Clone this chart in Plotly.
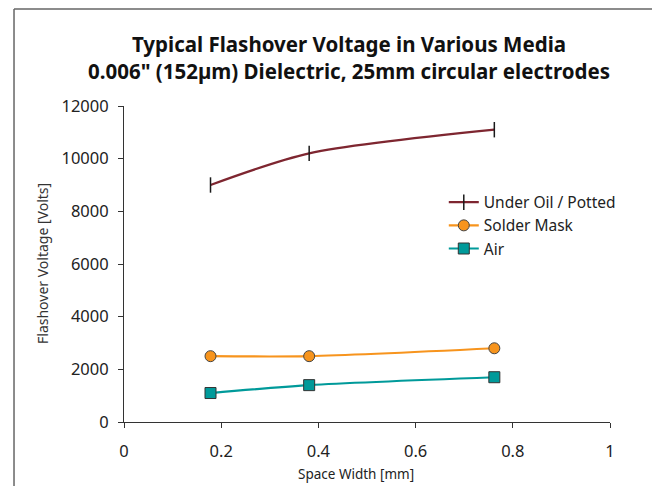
import plotly.graph_objects as go

space_width_mm = [0.178, 0.381, 0.762]
under_oil = [9000, 10200, 11100]
solder_mask = [2500, 2500, 2800]
air = [1100, 1400, 1700]

x_ticks = [0, 0.2, 0.4, 0.6, 0.8, 1]
x_tick_labels = ["0", "0.2", "0.4", "0.6", "0.8", "1"]
y_ticks = [0, 2000, 4000, 6000, 8000, 10000, 12000]
y_tick_labels = ["0", "2000", "4000", "6000", "8000", "10000", "12000"]

FONT = "Noto Sans"

fig = go.Figure()
fig.add_trace(go.Scatter(
    x=space_width_mm, y=under_oil, name="Under Oil / Potted",
    mode="lines+markers",
    line=dict(color="#7E2630", width=2.2, shape="spline", smoothing=0.8),
    marker=dict(symbol="line-ns", size=11, line=dict(color="#1a1a1a", width=1.5)),
))
fig.add_trace(go.Scatter(
    x=space_width_mm, y=solder_mask, name="Solder Mask",
    mode="lines+markers",
    line=dict(color="#F7941D", width=2.2, shape="spline", smoothing=0.8),
    marker=dict(symbol="circle", size=11, color="#F7941D", line=dict(color="#444444", width=1)),
))
fig.add_trace(go.Scatter(
    x=space_width_mm, y=air, name="Air",
    mode="lines+markers",
    line=dict(color="#009A9A", width=2.2, shape="spline", smoothing=0.8),
    marker=dict(symbol="square", size=11, color="#009A9A", line=dict(color="#333333", width=1)),
))

frame = dict(type="line", xref="paper", yref="paper", line=dict(color="#666666", width=1.5))
shapes = [
    dict(frame, x0=-0.2263, x1=-0.2263, y0=1.307, y1=-0.25),
    dict(frame, x0=-0.2263, x1=1.0967, y0=1.307, y1=1.307),
    dict(frame, x0=1.0967, x1=1.0967, y0=1.307, y1=-0.25),
]

annotations = [
    dict(text="Space Width [mm]", xref="paper", yref="paper",
         x=(356 - 124) / 486, y=-(474 - 422) / 316, xanchor="center", yanchor="middle",
         showarrow=False, font=dict(family=FONT, size=13.5, color="#222222")),
    dict(text="Flashover Voltage [Volts]", xref="paper", yref="paper",
         x=(42 - 124) / 486, y=(422 - 264) / 316, xanchor="center", yanchor="middle",
         textangle=-90, showarrow=False, font=dict(family=FONT, size=14, color="#333333")),
]

fig.update_layout(
    width=652, height=478,
    margin=dict(l=116, r=50, t=98, b=64),
    paper_bgcolor="white", plot_bgcolor="white",
    font=dict(family=FONT, color="#222222"),
    title=dict(
        text="<b>Typical Flashover Voltage in Various Media<br>0.006\" (152µm) Dielectric, 25mm circular electrodes</b>",
        x=0.523, xanchor="center", y=0.908, yanchor="top",
        font=dict(family=FONT, size=20.5, color="#111111"),
    ),
    shapes=shapes,
    annotations=annotations,
    showlegend=True,
    legend=dict(
        x=0.658, y=0.748, xanchor="left", yanchor="top",
        bgcolor="rgba(0,0,0,0)", font=dict(family=FONT, size=15.5, color="#222222"),
        itemwidth=30, tracegroupgap=0,
    ),
    xaxis=dict(
        range=[0, 1], tickvals=x_ticks, ticktext=x_tick_labels,
        showgrid=False, zeroline=False, showline=True, linecolor="#333333", linewidth=1,
        ticks="outside", ticklen=5, tickcolor="#333333", ticklabelstandoff=9,
        tickfont=dict(family=FONT, size=16.5, color="#222222"),
    ),
    yaxis=dict(
        range=[0, 12000], tickvals=y_ticks, ticktext=y_tick_labels,
        showgrid=False, zeroline=False, showline=True, linecolor="#333333", linewidth=1,
        ticks="outside", ticklen=5, tickcolor="#333333", ticklabelstandoff=6,
        tickfont=dict(family=FONT, size=16.5, color="#222222"),
    ),
)

fig.write_html("out.html")
